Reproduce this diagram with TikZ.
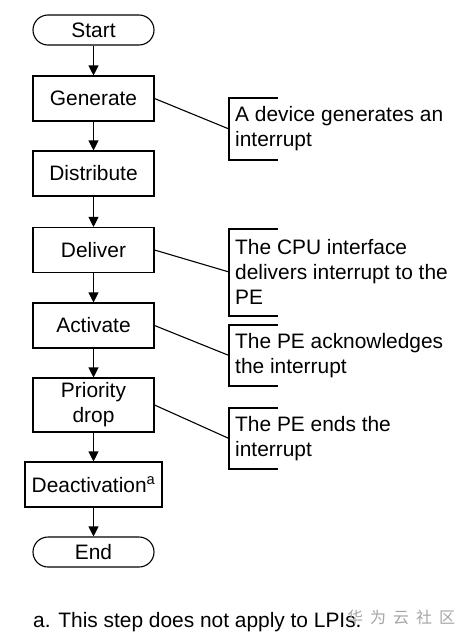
\documentclass[tikz,border=0pt]{standalone}
\usepackage{fontspec}
\setmainfont{Liberation Sans}
\newfontfamily\cjk{Noto Sans CJK SC}
\usetikzlibrary{arrows.meta}
\begin{document}
\begin{tikzpicture}[x=1pt,y=-1pt,
  every node/.style={font=\fontsize{20.9}{25}\selectfont},
  stepbox/.style={draw, line width=1.1pt, minimum width=121pt, minimum height=45pt, inner sep=0pt, align=center},
  term/.style={draw, line width=1.1pt, rounded corners=15pt, minimum width=121pt, minimum height=30pt, inner sep=0pt},
  flow/.style={line width=1.1pt, -{Triangle[length=10pt,width=10pt]}},
  note/.style={anchor=west, align=left, inner sep=0pt},
  bracket/.style={line width=1.1pt},
  lead/.style={line width=1.1pt}]
\useasboundingbox (0,0) rectangle (469,643);
\fill[white] (0,0) rectangle (469,643);

\node[term] (start) at (93.5,30) {Start};
\node[stepbox] (gen) at (93.5,98.5) {Generate};
\node[stepbox] (dist) at (93.5,173.5) {Distribute};
\node[stepbox] (del) at (93.5,250) {Deliver};
\node[stepbox] (act) at (93.5,325.5) {Activate};
\node[stepbox, minimum height=54pt] (pri) at (93.5,405) {Priority\\drop};
\node[stepbox, minimum width=137pt] (deact) at (93.5,484.5) {Deactivation\textsuperscript{a}};
\node[term] (end) at (93.5,552) {End};

\draw[flow] (start) -- (gen);
\draw[flow] (gen) -- (dist);
\draw[flow] (dist) -- (del);
\draw[flow] (del) -- (act);
\draw[flow] (act) -- (pri);
\draw[flow] (pri) -- (deact);
\draw[flow] (deact) -- (end);

% callouts
\coordinate (b1) at (229,129);
\node[note] (n1) at (235,129) {A device generates an\\interrupt};
\draw[bracket] (278,98) -- (229,98) -- (229,160) -- (278,160);
\draw[lead] (gen.east) -- (b1);

\coordinate (b2) at (229,272);
\node[note] (n2) at (235,272) {The CPU interface\\delivers interrupt to the\\PE};
\draw[bracket] (278,229) -- (229,229) -- (229,316) -- (278,316);
\draw[lead] (del.east) -- (b2);

\coordinate (b3) at (229,355.5);
\node[note] (n3) at (235,355.5) {The PE acknowledges\\the interrupt};
\draw[bracket] (278,325) -- (229,325) -- (229,386) -- (278,386);
\draw[lead] (act.east) -- (b3);

\coordinate (b4) at (229,438.5);
\node[note] (n4) at (235,438.5) {The PE ends the\\interrupt};
\draw[bracket] (278,408) -- (229,408) -- (229,469) -- (278,469);
\draw[lead] (pri.east) -- (b4);

\node[anchor=base west, inner sep=0pt] (foot) at (33,627) {a. This step does not apply to LPIs.};
\node[anchor=base west, inner sep=0pt, text=gray!70, font=\cjk\fontsize{16}{18}\selectfont] (wm) at (347,623) {华\hspace{7pt}为\hspace{7pt}云\hspace{7pt}社\hspace{7pt}区};
\end{tikzpicture}
\end{document}
